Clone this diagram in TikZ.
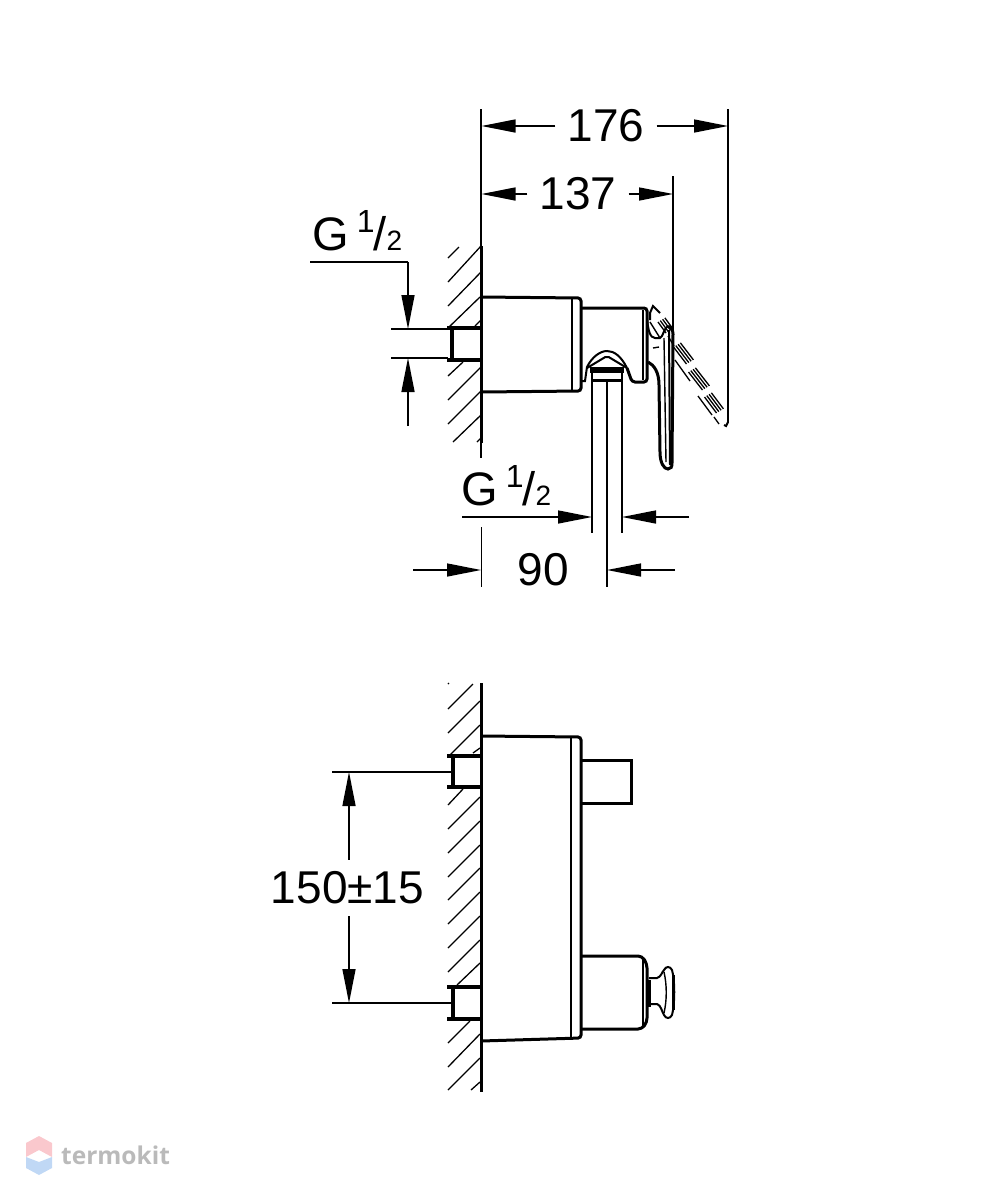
\documentclass[tikz,border=0pt]{standalone}
\usepackage{fontspec}
\setmainfont{Liberation Sans}
\newfontfamily\markfont{Open Sans}
\usetikzlibrary{arrows.meta}
\newcommand{\threadlabel}{{\fontsize{47}{47}\selectfont G}\hspace{9pt}\raisebox{18pt}{\fontsize{32}{32}\selectfont\hspace{-1pt}1}\hspace{-1pt}{\fontsize{47}{47}\selectfont /}{\fontsize{28}{28}\selectfont 2}}
\begin{document}
\begin{tikzpicture}[
  x=1pt,y=-1pt,
  thinline/.style={line width=1.4pt},
  hatchline/.style={line width=1.3pt},
  midline/.style={line width=2pt},
  thickline/.style={line width=3pt},
  pipeline/.style={line width=4pt},
  dimarrow/.style={thinline,-{Triangle[length=34pt,width=13pt]}},
  dimlabel/.style={inner sep=12pt,font=\fontsize{46}{46}\selectfont},
  threadnode/.style={anchor=base west,inner sep=0pt},
]
\useasboundingbox (0,0) rectangle (999,1200);
% upper view, wall and inlet
\draw[thickline] (481,246) -- (481,443);
\draw[thinline] (481,109) -- (481,246);
\draw[thinline] (481,443) -- (481,458);
\draw[hatchline] (448,258) -- (459,247) (448,282) -- (481,246) (448,306) -- (481,272)
  (448,328) -- (480,297) (475,326) -- (481,320) (448,376) -- (463,362) (448,400) -- (481,367)
  (448,424) -- (481,391) (453,442) -- (481,415) (477,442) -- (481,438);
\draw[pipeline] (447,328) -- (481,328) (452,328) -- (452,360) (447,360) -- (481,360);
% upper view, body
\draw[thickline,rounded corners=3pt] (481,297) -- (581,298) -- (581,391) -- (481,392);
\draw[midline] (572,298) -- (572,391);
\draw[thickline,rounded corners=3pt] (581,308) -- (647,308) -- (647,382) -- (632,382) -- (627,368);
\draw[midline] (643,310) -- (643,380);
\draw[midline] (627,368) .. controls (621,356) and (614,351) .. (607,351)
  .. controls (600,351) and (592,357) .. (587,367) -- (585,381) -- (581,381);
\draw[midline,rounded corners=2pt] (587,368) -- (607,356) -- (627,368);
\fill (590,367) rectangle (624,373);
\draw[midline] (592,373) -- (592,380) -- (622,380) -- (622,373);
\draw[thickline] (591,380) -- (623,380);
% upper view, outlet lines
\draw[thinline] (592,380) -- (592,533);
\draw[thinline] (622,380) -- (622,533);
\draw[thinline] (607,380) -- (607,587);
% upper view, lever
\draw[midline] (647,318) .. controls (648,330) and (650,338) .. (655,338) -- (660,338)
  .. controls (663,337) and (664,328) .. (668,326);
\draw[thickline] (668,326) .. controls (671,327) and (673,330) .. (673,334) -- (672,463)
  .. controls (672,467) and (671,469) .. (668,469)
  .. controls (664,469) and (660,463) .. (660,452) -- (659,385)
  .. controls (659,372) and (654,365) .. (648,362);
\draw[thinline] (664,338) -- (666,462);
\draw[midline] (669,330) -- (670,465);
\draw[thinline] (653,348) -- (659,347);
% upper view, lever in open position
\draw[midline] (650,320) -- (650,313) -- (653,306) -- (660,313);
\draw[thinline] (650,322) -- (660,338);
\foreach \off in {0,2.3,4.6,6.9}{
  \draw[hatchline,shift={(\off,-\off*0.6)}] (658,322) -- (666,333) (673.5,347) -- (686.5,364) (688.5,372) -- (702.5,390) (704.5,397) -- (716.5,413);
}
\draw[hatchline] (668,336) -- (674,346) (675,360) -- (690,381) (698,396) -- (712,415) (714,417) -- (719,424);
\draw[midline] (724,425) -- (726,426) -- (728,422);
% upper view, dimensions
\node[dimlabel] (len176) at (606,126) {176};
\node[dimlabel] (len137) at (578,194) {137};
\coordinate (wallmark) at (481.5,109);
\coordinate (levermark) at (728,109);
\coordinate (handlemark) at (673,176);
\draw[thinline] (levermark) -- (728,423);
\draw[thinline] (handlemark) -- (673,332);
\draw[dimarrow] (len176) -- (wallmark |- len176);
\draw[dimarrow] (len176) -- (levermark |- len176);
\draw[dimarrow] (len137) -- (wallmark |- len137);
\draw[dimarrow] (len137) -- (handlemark |- len137);
\node[threadnode] (thread1) at (312,250) {\threadlabel};
\draw[thinline] (391,329) -- (448,329) (391,358) -- (448,358);
\coordinate (pipetop) at (408,329);
\coordinate (pipebot) at (408,358);
\coordinate (threadend) at (408,426);
\draw[thinline] (310,262) -- (408,262);
\draw[dimarrow] (408,262) -- (pipetop);
\draw[dimarrow] (threadend) -- (pipebot);
\node[threadnode] (thread2) at (461,505) {\threadlabel};
\coordinate (outleta) at (592,517);
\coordinate (outletb) at (622,517);
\draw[dimarrow] (462,517) -- (outleta);
\draw[dimarrow] (689,517) -- (outletb);
\node[dimlabel] (len90) at (543.5,570) {90};
\draw[thinline] (481.5,527) -- (481.5,587);
\coordinate (walla) at (481,570);
\coordinate (outletc) at (607,570);
\draw[dimarrow] (413,570) -- (walla);
\draw[dimarrow] (675,570) -- (outletc);
% lower view, wall and inlets
\draw[thickline] (481,683) -- (481,1092);
\draw[hatchline] (448,684) -- (449,683) (448,709) -- (473,684) (448,733) -- (480,701) (448,757) -- (480,725) (473,753) -- (480,748)
  (448,805) -- (463,789) (448,829) -- (480,797) (448,853) -- (480,821) (448,877) -- (480,845) (448,900) -- (480,868)
  (448,924) -- (480,892) (448,948) -- (480,916) (448,972) -- (480,940) (457,985) -- (480,963)
  (448,1043) -- (470,1021) (448,1067) -- (480,1034) (448,1090) -- (480,1058) (471,1090) -- (480,1082);
\draw[pipeline] (447,756) -- (481,756) (453,756) -- (453,787) (447,787) -- (481,787);
\draw[pipeline] (447,987) -- (481,987) (453,987) -- (453,1019) (447,1019) -- (481,1019);
% lower view, body
\draw[thickline,rounded corners=3pt] (481,736) -- (581,737) -- (581,1038) -- (481,1041);
\draw[midline] (571,737) -- (571,1038);
\draw[thickline] (581,760) -- (631,760) -- (631,803) -- (581,803);
\draw[thickline,rounded corners=4pt] (581,956) -- (642,956) -- (647,964) -- (647,1022) -- (642,1029) -- (581,1029);
\draw[midline] (643,958) -- (643,1027);
% lower view, knob
\draw[pipeline] (649,980) -- (649,1007);
\draw[midline] (649,978) -- (657,978) .. controls (661,977) and (662,972) .. (664,970)
  .. controls (666,966) and (670,966) .. (672,970)
  .. controls (675,980) and (675,1004) .. (672,1015)
  .. controls (670,1019) and (666,1019) .. (664,1015)
  .. controls (662,1012) and (661,1005) .. (657,1004) -- (649,1004);
\draw[thinline] (664,972) .. controls (667,985) and (667,1000) .. (664,1013);
\draw[thickline] (673,975) -- (673,1010);
% lower view, dimension
\node[dimlabel,inner xsep=0pt] (lenwall) at (347.5,888) {150±15};
\coordinate (inleta) at (349,772);
\coordinate (inletb) at (349,1003);
\draw[thinline] (332,772) -- (452,772) (332,1003) -- (452,1003);
\draw[dimarrow] (lenwall.north -| inleta) -- (inleta);
\draw[dimarrow] (lenwall.south -| inletb) -- (inletb);
% watermark
\definecolor{markpink}{RGB}{250,200,205}
\definecolor{markblue}{RGB}{192,216,245}
\fill[markpink] (39,1136) -- (52,1143) -- (52,1157) -- (39,1150) -- (26,1157) -- (26,1143) -- cycle;
\fill[markblue] (39,1175) -- (52,1168) -- (52,1157) -- (39,1162) -- (26,1157) -- (26,1168) -- cycle;
\node[anchor=base west,inner sep=0pt,text=black!27,font=\markfont\bfseries\fontsize{24.5}{25}\selectfont] (brand) at (61,1164) {termokit};
\end{tikzpicture}
\end{document}
